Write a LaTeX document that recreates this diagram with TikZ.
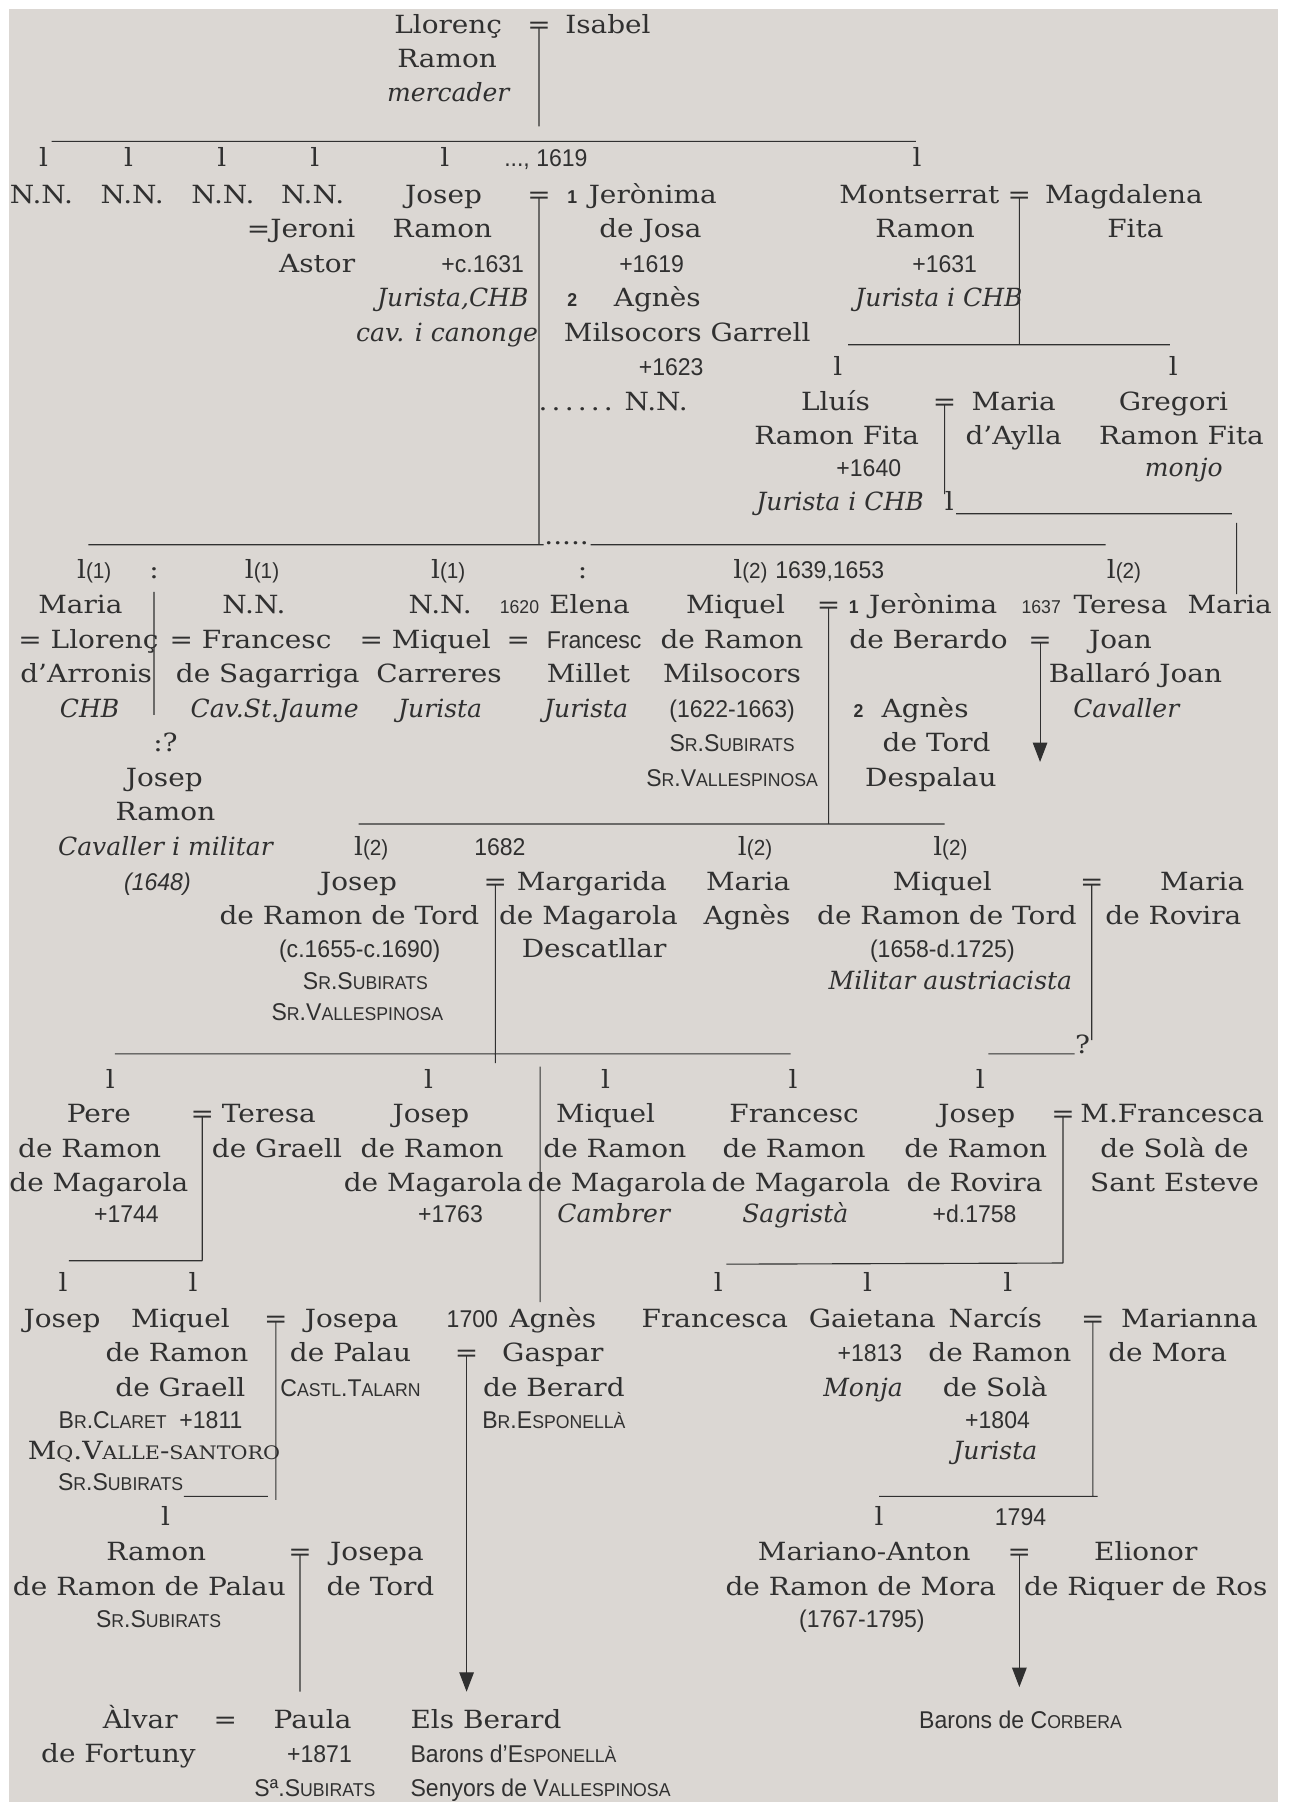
\documentclass[tikz,border=0pt]{standalone}
\usepackage{fontspec}
\setmainfont{DejaVu Serif}[FakeStretch=1.115]
\newfontfamily\plain{DejaVu Serif}
\newfontfamily\cnd[FakeStretch=0.95]{Liberation Sans}
\usetikzlibrary{arrows.meta}
\definecolor{paper}{RGB}{219,215,211}
\definecolor{ink}{RGB}{48,48,48}
\newcommand\sk[1]{{\fontsize{11.5}{13}\selectfont #1}}
\newcommand\lp[1]{l{\cnd\fontsize{13.5}{15}\selectfont(#1)}}

\begin{document}
\begin{tikzpicture}[x=0.025cm,y=-0.025cm,
        t/.style={anchor=base,inner sep=0pt,text=ink,font=\fontsize{15.5}{18}\selectfont},
        it/.style={t,font=\plain\fontsize{15.5}{18}\selectfont\itshape},
        dt/.style={t,font=\cnd\fontsize{15}{18}\selectfont},
        ds/.style={t,font=\cnd\fontsize{11.5}{13}\selectfont},
        nb/.style={t,font=\cnd\bfseries\fontsize{11.5}{13}\selectfont},
        ln/.style={draw=ink,line width=0.7pt},
        ar/.style={ln,-{Triangle[width=9pt,length=12pt]}}]

        \useasboundingbox (0,0) rectangle (1121,1568);
        \fill[white] (0,0) rectangle (1121,1568);
        \fill[paper] (8,8) rectangle (1112,1568);

        \node [t]  (llo1) at (390,29) {Llorenç};
        \node [t]  (eqA)  at (469,29) {=};
        \node [t]  (isa)  at (529,29) {Isabel};
        \node [t]  (llo2) at (389,59) {Ramon};
        \node [it] (llo3) at (390,88) {mercader};

        \node [t]  (mB1) at (38,145)  {l};
        \node [t]  (mB2) at (112,145) {l};
        \node [t]  (mB3) at (193,145) {l};
        \node [t]  (mB4) at (274,145) {l};
        \node [t]  (mB5) at (387,145) {l};
        \node [dt] (yB5) at (475,145) {..., 1619};
        \node [t]  (mB6) at (798,145) {l};

        \node [t]  (nn1)  at (36,177)  {N.N.};
        \node [t]  (nn2)  at (115,177) {N.N.};
        \node [t]  (nn3)  at (194,177) {N.N.};
        \node [t]  (nn4)  at (272,177) {N.N.};
        \node [t]  (nn4b) at (262,207) {=Jeroni};
        \node [t]  (nn4c) at (276,237) {Astor};
        \node [t]  (jos1) at (386,177) {Josep};
        \node [t]  (jos2) at (385,207) {Ramon};
        \node [dt] (jos3) at (420,237) {+c.1631};
        \node [it] (jos4) at (394,267) {Jurista,CHB};
        \node [it] (jos5) at (389,297) {cav. i canonge};
        \node [t]  (eqB)  at (469,177) {=};
        \node [nb] (wn1)  at (498,177) {1};
        \node [t]  (jer1) at (568,177) {Jerònima};
        \node [t]  (jer2) at (566,207) {de Josa};
        \node [dt] (jer3) at (567,237) {+1619};
        \node [nb] (wn2)  at (498,267) {2};
        \node [t]  (agn1) at (572,267) {Agnès};
        \node [t]  (agn2) at (598,297) {Milsocors Garrell};
        \node [dt] (agn3) at (584,327) {+1623};
        \node [t]  (dots) at (501,357) {.\,.\,.\,.\,.\,.};
        \node [t]  (nn5)  at (571,357) {N.N.};
        \node [t]  (mon1) at (800,177) {Montserrat};
        \node [t]  (mon2) at (805,207) {Ramon};
        \node [dt] (mon3) at (822,237) {+1631};
        \node [it] (mon4) at (817,267) {Jurista i CHB};
        \node [t]  (eqM)  at (887,177) {=};
        \node [t]  (mag1) at (978,177) {Magdalena};
        \node [t]  (mag2) at (988,207) {Fita};

        \node [t]  (mL1) at (729,327)  {l};
        \node [t]  (mL2) at (1021,327) {l};
        \node [t]  (llu1) at (727,357) {Lluís};
        \node [t]  (llu2) at (728,387) {Ramon Fita};
        \node [dt] (llu3) at (756,415) {+1640};
        \node [it] (llu4) at (731,444) {Jurista i CHB};
        \node [t]  (eqL)  at (822,357) {=};
        \node [t]  (may1) at (882,357) {Maria};
        \node [t]  (may2) at (882,387) {d’Aylla};
        \node [t]  (gre1) at (1021,357) {Gregori};
        \node [t]  (gre2) at (1028,387) {Ramon Fita};
        \node [it] (gre3) at (1030,415) {monjo};
        \node [t]  (mL3) at (826,444) {l};

        \node [t]  (dotC) at (493,474) {.....};
        \node [t]  (mC1) at (82,503)  {\lp{1}};
        \node [t]  (mC2) at (134,503) {:};
        \node [t]  (mC3) at (228,503) {\lp{1}};
        \node [t]  (mC4) at (390,503) {\lp{1}};
        \node [t]  (mC5) at (507,503) {:};
        \node [t]  (mC6) at (653,503) {\lp{2}};
        \node [dt] (yC6) at (722,503) {1639,1653};
        \node [t]  (mC7) at (978,503) {\lp{2}};

        \node [t]  (mar1) at (70,534)  {Maria};
        \node [t]  (mar2) at (77,564)  {= Llorenç};
        \node [t]  (mar3) at (75,594)  {d’Arronis};
        \node [it] (mar4) at (78,624)  {CHB};
        \node [t]  (qu1)  at (144,654) {:?};
        \node [t]  (jr1)  at (143,684) {Josep};
        \node [t]  (jr2)  at (144,714) {Ramon};
        \node [it] (jr3)  at (144,744) {Cavaller i militar};
        \node [t,font=\cnd\itshape\fontsize{15}{18}\selectfont] (jr4) at (137,775) {(1648)};
        \node [t]  (sag1) at (221,534) {N.N.};
        \node [t]  (sag2) at (218,564) {= Francesc};
        \node [t]  (sag3) at (233,594) {de Sagarriga};
        \node [it] (sag4) at (239,624) {Cav.St.Jaume};
        \node [t]  (car1) at (383,534) {N.N.};
        \node [t]  (car2) at (370,564) {= Miquel};
        \node [t]  (car3) at (382,594) {Carreres};
        \node [it] (car4) at (383,624) {Jurista};
        \node [ds] (yel)  at (452,534) {1620};
        \node [t]  (ele1) at (513,534) {Elena};
        \node [t]  (ele0) at (451,564) {=};
        \node [dt] (ele2) at (517,564) {Francesc};
        \node [t]  (ele3) at (512,594) {Millet};
        \node [it] (ele4) at (510,624) {Jurista};
        \node [t]  (miq1) at (640,534) {Miquel};
        \node [t]  (miq2) at (637,564) {de Ramon};
        \node [t]  (miq3) at (637,594) {Milsocors};
        \node [dt] (miq4) at (637,624) {(1622-1663)};
        \node [dt] (miq5) at (637,654) {S\sk{R}.S\sk{UBIRATS}};
        \node [dt] (miq6) at (637,684) {S\sk{R}.V\sk{ALLESPINOSA}};
        \node [t]  (eqC)  at (721,534) {=};
        \node [nb] (wn3)  at (743,534) {1};
        \node [t]  (ber1) at (812,534) {Jerònima};
        \node [t]  (ber2) at (808,564) {de Berardo};
        \node [nb] (wn4)  at (747,624) {2};
        \node [t]  (tor1) at (805,624) {Agnès};
        \node [t]  (tor2) at (815,654) {de Tord};
        \node [t]  (tor3) at (810,684) {Despalau};
        \node [ds] (yte)  at (906,534) {1637};
        \node [t]  (ter1) at (975,534) {Teresa};
        \node [t]  (eqT)  at (905,564) {=};
        \node [t]  (ter2) at (975,564) {Joan};
        \node [t]  (ter3) at (988,594) {Ballaró Joan};
        \node [it] (ter4) at (980,624) {Cavaller};
        \node [t]  (maf)  at (1070,534) {Maria};

        \node [t]  (mD1) at (323,744) {\lp{2}};
        \node [dt] (yD1) at (435,744) {1682};
        \node [t]  (mD2) at (657,744) {\lp{2}};
        \node [t]  (mD3) at (827,744) {\lp{2}};
        \node [t]  (jt1) at (312,775) {Josep};
        \node [t]  (jt2) at (304,804) {de Ramon de Tord};
        \node [dt] (jt3) at (313,833) {(c.1655-c.1690)};
        \node [dt] (jt4) at (318,861) {S\sk{R}.S\sk{UBIRATS}};
        \node [dt] (jt5) at (311,888) {S\sk{R}.V\sk{ALLESPINOSA}};
        \node [t]  (eqD) at (431,775) {=};
        \node [t]  (mg1) at (515,775) {Margarida};
        \node [t]  (mg2) at (512,804) {de Magarola};
        \node [t]  (mg3) at (517,833) {Descatllar};
        \node [t]  (ma1) at (651,775) {Maria};
        \node [t]  (ma2) at (650,804) {Agnès};
        \node [t]  (mt1) at (820,775) {Miquel};
        \node [t]  (mt2) at (824,804) {de Ramon de Tord};
        \node [dt] (mt3) at (820,833) {(1658-d.1725)};
        \node [it] (mt4) at (827,861) {Militar austriacista};
        \node [t]  (eqE) at (950,775) {=};
        \node [t]  (rv1) at (1046,775) {Maria};
        \node [t]  (rv2) at (1021,804) {de Rovira};
        \node [t]  (qu2) at (942,917) {?};

        \node [t]  (mE1) at (96,947)  {l};
        \node [t]  (mE2) at (373,947) {l};
        \node [t]  (mE3) at (527,947) {l};
        \node [t]  (mE4) at (690,947) {l};
        \node [t]  (mE5) at (853,947) {l};
        \node [t]  (pe1) at (86,977)   {Pere};
        \node [t]  (pe2) at (78,1007)  {de Ramon};
        \node [t]  (pe3) at (86,1037)  {de Magarola};
        \node [dt] (pe4) at (110,1064) {+1744};
        \node [t]  (eqF) at (176,977)  {=};
        \node [t]  (gr1) at (234,977)  {Teresa};
        \node [t]  (gr2) at (241,1007) {de Graell};
        \node [t]  (jm1) at (375,977)  {Josep};
        \node [t]  (jm2) at (376,1007) {de Ramon};
        \node [t]  (jm3) at (377,1037) {de Magarola};
        \node [dt] (jm4) at (392,1064) {+1763};
        \node [t]  (qm1) at (527,977)  {Miquel};
        \node [t]  (qm2) at (535,1007) {de Ramon};
        \node [t]  (qm3) at (537,1037) {de Magarola};
        \node [it] (qm4) at (534,1064) {Cambrer};
        \node [t]  (fm1) at (691,977)  {Francesc};
        \node [t]  (fm2) at (691,1007) {de Ramon};
        \node [t]  (fm3) at (697,1037) {de Magarola};
        \node [it] (fm4) at (692,1064) {Sagristà};
        \node [t]  (jv1) at (850,977)  {Josep};
        \node [t]  (jv2) at (849,1007) {de Ramon};
        \node [t]  (jv3) at (848,1037) {de Rovira};
        \node [dt] (jv4) at (848,1064) {+d.1758};
        \node [t]  (eqG) at (925,977)  {=};
        \node [t]  (so1) at (1020,977) {M.Francesca};
        \node [t]  (so2) at (1022,1007) {de Solà de};
        \node [t]  (so3) at (1022,1037) {Sant Esteve};

        \node [t]  (mF1) at (55,1124)  {l};
        \node [t]  (mF2) at (168,1124) {l};
        \node [t]  (mF3) at (625,1124) {l};
        \node [t]  (mF4) at (755,1124) {l};
        \node [t]  (mF5) at (877,1124) {l};
        \node [t]  (jg)  at (54,1155)  {Josep};
        \node [t]  (mq1) at (157,1155) {Miquel};
        \node [t]  (mq2) at (154,1185) {de Ramon};
        \node [t]  (mq3) at (157,1215) {de Graell};
        \node [dt] (mq4) at (131,1243) {B\sk{R}.C\sk{LARET}\ \ +1811};
        \node [t]  (mq5) at (134,1270) {M\sk{Q}.V\sk{ALLE}-\sk{SANTORO}};
        \node [dt] (mq6) at (105,1297) {S\sk{R}.S\sk{UBIRATS}};
        \node [t]  (eqH) at (240,1155) {=};
        \node [t]  (pa1) at (306,1155) {Josepa};
        \node [t]  (pa2) at (305,1185) {de Palau};
        \node [dt] (pa3) at (305,1215) {C\sk{ASTL}.T\sk{ALARN}};
        \node [dt] (yag) at (411,1155) {1700};
        \node [t]  (ag1) at (481,1155) {Agnès};
        \node [t]  (eqI) at (406,1185) {=};
        \node [t]  (ag2) at (481,1185) {Gaspar};
        \node [t]  (ag3) at (482,1215) {de Berard};
        \node [dt] (ag4) at (482,1243) {B\sk{R}.E\sk{SPONELLÀ}};
        \node [t]  (fca) at (622,1155) {Francesca};
        \node [t]  (ga1) at (759,1155) {Gaietana};
        \node [dt] (ga2) at (757,1185) {+1813};
        \node [it] (ga3) at (751,1215) {Monja};
        \node [t]  (na1) at (866,1155) {Narcís};
        \node [t]  (na2) at (870,1185) {de Ramon};
        \node [t]  (na3) at (866,1215) {de Solà};
        \node [dt] (na4) at (868,1243) {+1804};
        \node [it] (na5) at (866,1270) {Jurista};
        \node [t]  (eqJ) at (951,1155) {=};
        \node [t]  (mo1) at (1035,1155) {Marianna};
        \node [t]  (mo2) at (1016,1185) {de Mora};

        \node [t]  (mG1) at (144,1327) {l};
        \node [t]  (mG2) at (765,1327) {l};
        \node [dt] (yG2) at (888,1327) {1794};
        \node [t]  (rp1) at (136,1358) {Ramon};
        \node [t]  (rp2) at (130,1388) {de Ramon de Palau};
        \node [dt] (rp3) at (138,1416) {S\sk{R}.S\sk{UBIRATS}};
        \node [t]  (eqK) at (261,1358) {=};
        \node [t]  (td1) at (328,1358) {Josepa};
        \node [t]  (td2) at (331,1388) {de Tord};
        \node [t]  (mm1) at (752,1358) {Mariano-Anton};
        \node [t]  (mm2) at (749,1388) {de Ramon de Mora};
        \node [dt] (mm3) at (750,1416) {(1767-1795)};
        \node [t]  (eqL2) at (887,1358) {=};
        \node [t]  (el1) at (997,1358) {Elionor};
        \node [t]  (el2) at (997,1388) {de Riquer de Ros};

        \node [t]  (fo1) at (122,1504) {Àlvar};
        \node [t]  (fo2) at (103,1534) {de Fortuny};
        \node [t]  (eqM2) at (196,1504) {=};
        \node [t]  (pl1) at (272,1504) {Paula};
        \node [dt] (pl2) at (278,1534) {+1871};
        \node [dt] (pl3) at (274,1563) {Sª.S\sk{UBIRATS}};
        \node [t,anchor=base west]  (eb1) at (357,1504) {Els Berard};
        \node [dt,anchor=base west] (eb2) at (357,1534) {Barons d’E\sk{SPONELLÀ}};
        \node [dt,anchor=base west] (eb3) at (357,1563) {Senyors de V\sk{ALLESPINOSA}};
        \node [dt] (cor) at (888,1504) {Barons de C\sk{ORBERA}};

        \coordinate (a1)  at (469,110);
        \coordinate (h1l) at (45,123);   \coordinate (h1r) at (797,123);
        \coordinate (b1)  at (469,474);
        \coordinate (h2l) at (77,474);   \coordinate (h2r) at (473,474);
        \coordinate (h3l) at (514,474);  \coordinate (h3r) at (962,474);
        \coordinate (c1)  at (887,300);
        \coordinate (h4l) at (738,300);  \coordinate (h4r) at (1018,300);
        \coordinate (d1)  at (822,430);
        \coordinate (h5l) at (832,447);  \coordinate (h5r) at (1072,447);
        \coordinate (e1)  at (1076,455); \coordinate (e2)  at (1076,517);
        \coordinate (f1)  at (134,515);  \coordinate (f2)  at (134,622);
        \coordinate (g1)  at (905,663);
        \coordinate (k1)  at (721,717);
        \coordinate (h6l) at (312,717);  \coordinate (h6r) at (822,717);
        \coordinate (l1)  at (431,925);
        \coordinate (h7l) at (100,917);  \coordinate (h7r) at (688,917);
        \coordinate (n1)  at (950,905);
        \coordinate (h8l) at (860,917);  \coordinate (h8r) at (935,917);
        \coordinate (p1)  at (470,928);  \coordinate (p2)  at (470,1133);
        \coordinate (q1)  at (176,1097);
        \coordinate (h9l) at (60,1097);
        \coordinate (r1)  at (925,1099);
        \coordinate (h10l) at (632,1100);
        \coordinate (s1)  at (240,1305);
        \coordinate (h11l) at (160,1302); \coordinate (h11r) at (233,1302);
        \coordinate (u1)  at (406,1472);
        \coordinate (v1)  at (951,1302);
        \coordinate (h12l) at (765,1302); \coordinate (h12r) at (955,1302);
        \coordinate (w1)  at (261,1472);
        \coordinate (x1)  at (887,1468);

        \path [ln]
          (eqA.center) -- (a1)
          (h1l) -- (h1r)
          (eqB.center) -- (b1)
          (h2l) -- (h2r)
          (h3l) -- (h3r)
          (eqM.center) -- (c1)
          (h4l) -- (h4r)
          (eqL.center) -- (d1)
          (h5l) -- (h5r)
          (e1) -- (e2)
          (f1) -- (f2)
          (eqC.center) -- (k1)
          (h6l) -- (h6r)
          (eqD.center) -- (l1)
          (h7l) -- (h7r)
          (eqE.center) -- (n1)
          (h8l) -- (h8r)
          (p1) -- (p2)
          (eqF.center) -- (q1)
          (h9l) -- (q1)
          (eqG.center) -- (r1)
          (h10l) -- (r1)
          (eqH.center) -- (s1)
          (h11l) -- (h11r)
          (eqJ.center) -- (v1)
          (h12l) -- (h12r)
          (eqK.center) -- (w1)
        ;
        \draw [ar] (eqT.center) -- (g1);
        \draw [ar] (eqI.center) -- (u1);
        \draw [ar] (eqL2.center) -- (x1);
      \end{tikzpicture}
\end{document}
